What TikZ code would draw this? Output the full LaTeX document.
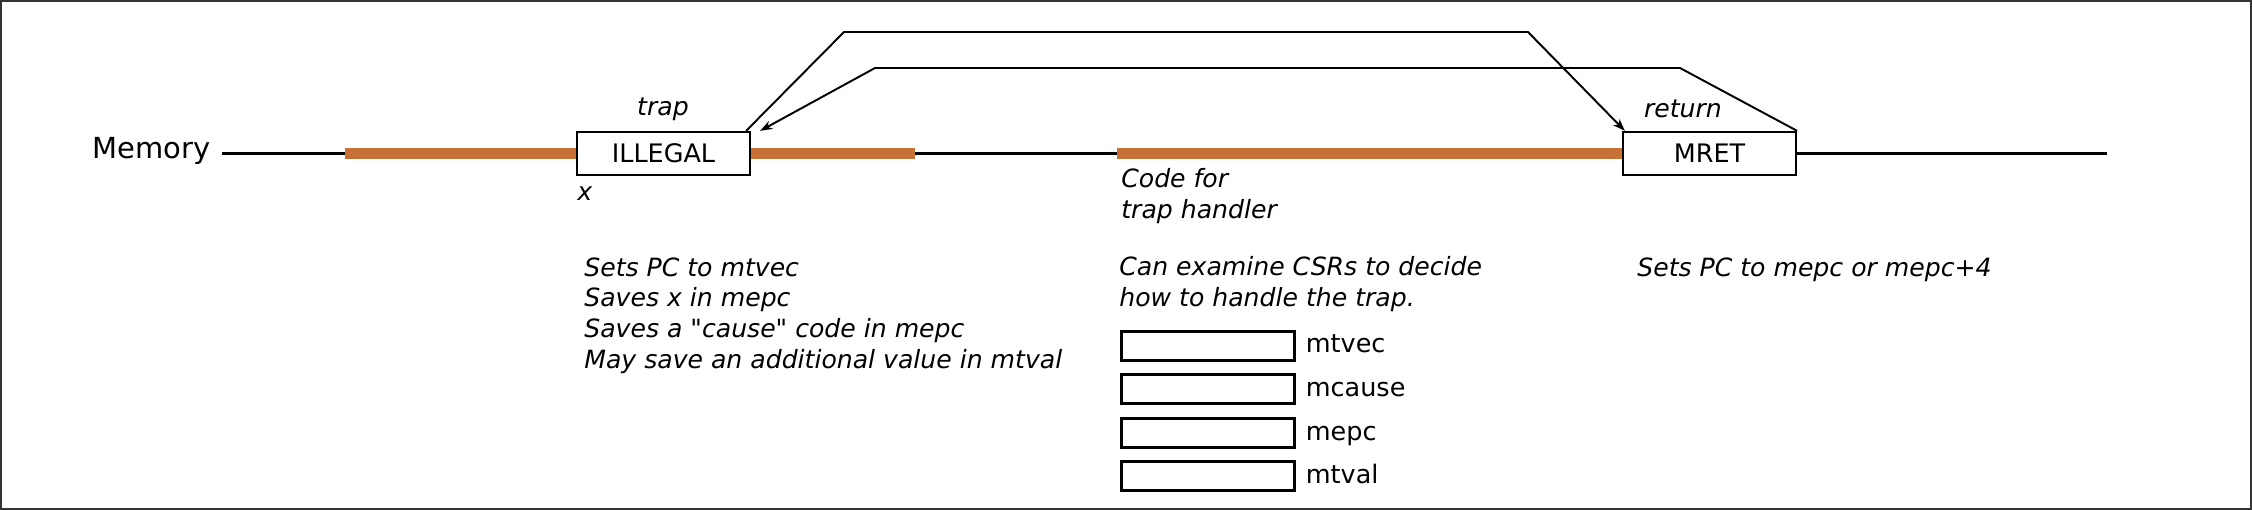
\documentclass[tikz,border=0pt]{standalone}
\usepackage{fontspec}
\setmainfont{DejaVu Sans}[Ligatures=TeXOff]
\usetikzlibrary{arrows.meta,positioning}
\definecolor{codeorange}{HTML}{C87137}

\begin{document}
\begin{tikzpicture}[x=0.02cm, y=-0.02cm,
  insn/.style={draw, line width=1.3pt, fill=white, minimum width=3.46cm, minimum height=0.86cm, inner sep=0, font=\fontsize{14.5}{17}\selectfont},
  csrbox/.style={draw, line width=1.2pt, fill=white, minimum width=3.46cm, minimum height=0.58cm, inner sep=0},
  csrname/.style={anchor=base west, at={([xshift=0.2cm,yshift=-0.14cm]#1.east)}, inner sep=0, font=\fontsize{14.5}{17}\selectfont},
  note/.style={font=\fontsize{14.3}{17.6}\selectfont\itshape, align=left, anchor=north west, inner sep=0},
  tag/.style={font=\fontsize{14.3}{17.6}\selectfont\itshape, anchor=base, inner sep=0},
  memline/.style={line width=2.2pt},
  code/.style={line width=5.7pt, codeorange},
  flow/.style={line width=1.1pt, -{Stealth[length=7pt,width=5pt]}}
]
  \useasboundingbox (0,0) rectangle (2252,510);
  \draw[line width=1.1pt, black!80] (1,1) rectangle (2251,509);

  % memory strip
  \node[anchor=base west, inner sep=0, font=\fontsize{16.5}{20}\selectfont] (mem) at (92,158) {Memory};
  \coordinate (memstart) at (222,153.5);
  \coordinate (memend) at (2107,153.5);
  \draw[memline] (memstart) -- (memend);

  % instructions
  \node[insn] (illegal) at (663.5,153.5) {ILLEGAL};
  \node[insn] (mret) at (1709.5,153.5) {MRET};

  % code regions
  \coordinate (code1) at (345,153.5);
  \coordinate (code2) at (915,153.5);
  \coordinate (code3) at (1117,153.5);
  \draw[code] (code1) -- (code1 -| illegal.west);
  \draw[code] (code2 -| illegal.east) -- (code2);
  \draw[code] (code3) -- (code3 -| mret.west);

  % trap and return jumps
  \draw[flow] ([xshift=-0.1cm]illegal.north east) -- (844,32) -- (1528,32) -- ([xshift=0.06cm]mret.north west);
  \draw[flow] (mret.north east) -- (1680,68) -- (875,68) -- ([xshift=0.18cm]illegal.north east);

  \node[tag] (traplbl) at (663,115) {trap};
  \node[tag] (retlbl) at (1683,117) {return};
  \node[tag, anchor=base west] (xlbl) at (577,200) {x};
  \node[note] (handler) at (1121,168) {Code for\\trap handler};

  % what each step does
  \node[note] (trapnote) at (584,257) {Sets PC to mtvec\\Saves x in mepc\\Saves a "cause" code in mepc\\May save an additional value in mtval};
  \node[note] (handlernote) at (1119,256) {Can examine CSRs to decide\\how to handle the trap.};
  \node[note] (retnote) at (1637,257) {Sets PC to mepc or mepc+4};

  % CSRs
  \node[csrbox] (csr1) at (1208,346) {};
  \node[csrbox] (csr2) at (1208,389) {};
  \node[csrbox] (csr3) at (1208,433) {};
  \node[csrbox] (csr4) at (1208,476) {};
  \node[csrname=csr1] (mtvec) {mtvec};
  \node[csrname=csr2] (mcause) {mcause};
  \node[csrname=csr3] (mepc) {mepc};
  \node[csrname=csr4] (mtval) {mtval};
\end{tikzpicture}
\end{document}
